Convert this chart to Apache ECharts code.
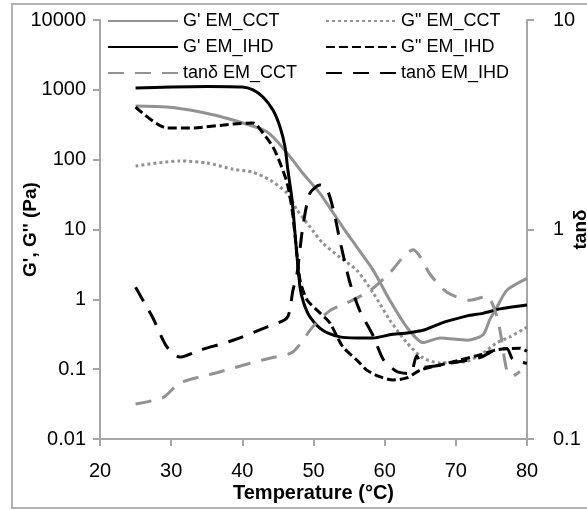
<!DOCTYPE html>
<html>
<head>
<meta charset="utf-8">
<script src="https://cdn.jsdelivr.net/npm/echarts@6/dist/echarts.min.js"></script>
<style>
  html, body { margin: 0; padding: 0; background: #fff; }
  #frame { position: absolute; left: 11px; top: 3px; width: 640px; height: 502px; border: 2px solid #b3b3b3; }
  #chart { position: absolute; left: 0; top: 0; width: 587px; height: 510px; }
</style>
</head>
<body>
<div id="frame"></div>
<div id="chart"></div>
<script>
// values (temperature in °C)
const gCctT = [25, 29.4, 34.1, 38.7, 43.5, 46.3, 48.5, 50.9, 54.4, 56.1, 58.4, 60.7, 63.1, 65.4, 67.8, 71.6, 73.8, 74.8, 75.8, 77.2, 80];
const gCctV = [587, 567, 481, 370, 249, 124, 64, 33, 9.8, 5.6, 2.6, 0.98, 0.40, 0.24, 0.28, 0.26, 0.31, 0.52, 0.78, 1.36, 2.0];

const g2CctT = [25, 31.2, 35, 38.7, 41.5, 43.9, 46.3, 47.7, 49.5, 51.3, 53.7, 56.1, 58.4, 60.7, 63.1, 65.4, 67.8, 71.6, 73.8, 75.8, 77.6, 80];
const g2CctV = [81, 96, 90, 73, 66, 51, 33, 19, 10.9, 6.4, 4.0, 2.6, 1.23, 0.51, 0.24, 0.145, 0.123, 0.13, 0.17, 0.24, 0.29, 0.40];

const gIhdT = [25, 30, 35, 40, 41.5, 42.9, 44.3, 45.3, 46.0, 46.4, 47.0, 47.4, 48.1, 48.6, 49.5, 51.3, 53.7, 56.1, 58.4, 60.7, 63.1, 65.4, 67.8, 69.2, 71.6, 73.8, 76.2, 80];
const gIhdV = [1060, 1100, 1120, 1100, 1000, 790, 515, 294, 152, 71, 26, 8.9, 1.5, 0.9, 0.56, 0.36, 0.29, 0.28, 0.28, 0.31, 0.33, 0.36, 0.45, 0.5, 0.58, 0.63, 0.73, 0.83];

const g2IhdT = [25, 29.4, 32.6, 38.7, 41.5, 42.9, 44.3, 45.3, 46.3, 47.0, 47.4, 48.1, 49.1, 50.9, 52.3, 54.1, 56.1, 57.5, 59.3, 61.2, 63.1, 65.0, 67.8, 70.6, 73.4, 75.8, 79.0, 80];
const g2IhdV = [567, 284, 284, 324, 335, 241, 152, 90, 46, 19, 8.3, 1.9, 0.98, 0.64, 0.46, 0.21, 0.135, 0.097, 0.078, 0.070, 0.075, 0.097, 0.115, 0.135, 0.16, 0.19, 0.20, 0.18];

const tanCctT = [25, 28.9, 31.2, 36.4, 41.1, 44.3, 47.1, 49.9, 52.3, 54.7, 57.9, 60.7, 62.9, 64.0, 65.0, 66.4, 68.8, 72.0, 74.4, 75.5, 76.2, 77.2, 78.0, 79.0];
const tanCctV = [0.147, 0.158, 0.185, 0.207, 0.23, 0.245, 0.26, 0.343, 0.41, 0.446, 0.51, 0.62, 0.76, 0.80, 0.74, 0.61, 0.50, 0.46, 0.48, 0.41, 0.33, 0.21, 0.20, 0.21];

const tanIhdT = [25, 27.4, 29.4, 31.2, 34.1, 38.7, 43.5, 46.3, 47.1, 47.7, 48.5, 49.5, 50.9, 51.9, 52.8, 53.7, 55.1, 56.5, 58.4, 59.8, 61.7, 63.6, 64.5, 65.4, 69.2, 73.4, 76.2, 77.2, 78.0, 80];
const tanIhdV = [0.53, 0.38, 0.275, 0.246, 0.266, 0.296, 0.343, 0.38, 0.51, 0.62, 1.03, 1.49, 1.63, 1.55, 1.24, 0.89, 0.56, 0.41, 0.31, 0.24, 0.21, 0.205, 0.25, 0.22, 0.23, 0.245, 0.27, 0.27, 0.24, 0.23];

const xTicks = [20, 30, 40, 50, 60, 70, 80];

const gray = '#929292';
const font = 'Liberation Sans';

const pairs = (t, v) => t.map((x, i) => [x, v[i]]);

const line = (name, t, v, color, type, yIdx) => ({
  name: name,
  type: 'line',
  yAxisIndex: yIdx,
  data: pairs(t, v),
  symbol: 'none',
  smooth: 0.25,
  lineStyle: { color: color, width: 3, type: type },
  itemStyle: { color: color }
});

const legendBase = {
  orient: 'vertical', top: 7,
  itemWidth: 70, itemHeight: 14, itemGap: 8,
  itemStyle: { opacity: 0 },
  textStyle: { fontFamily: font, fontSize: 18, color: '#000' }
};

const chart = echarts.init(document.getElementById('chart'));

chart.setOption({
  animation: false,
  backgroundColor: 'transparent',
  textStyle: { fontFamily: font, color: '#000' },
  grid: { left: 100, right: 60, top: 20, bottom: 71, outerBoundsMode: 'none', containLabel: false },
  legend: [
    Object.assign({ data: ["G' EM_CCT", "G' EM_IHD", 'tanδ EM_CCT'], left: 102 }, legendBase),
    Object.assign({ data: ['G" EM_CCT', 'G" EM_IHD', 'tanδ EM_IHD'], left: 320 }, legendBase)
  ],
  xAxis: {
    type: 'value', min: xTicks[0], max: xTicks[xTicks.length - 1], interval: 10,
    name: 'Temperature (°C)', nameLocation: 'middle', nameGap: 44, nameMoveOverlap: false,
    nameTextStyle: { fontFamily: font, fontSize: 20, fontWeight: 'bold', color: '#000' },
    axisLine: { lineStyle: { color: '#a6a6a6', width: 2 } },
    axisTick: { length: 7, lineStyle: { color: '#a6a6a6', width: 2 } },
    axisLabel: { fontSize: 20, color: '#000', margin: 22 },
    splitLine: { show: false }
  },
  yAxis: [
    {
      type: 'log', logBase: 10, min: 0.01, max: 10000,
      name: "G', G'' (Pa)", nameLocation: 'middle', nameGap: 60, nameMoveOverlap: false,
      nameTextStyle: { fontFamily: font, fontSize: 19, fontWeight: 'bold', color: '#000' },
      axisLine: { show: true, lineStyle: { color: '#a6a6a6', width: 2 } },
      axisTick: { show: true, length: 7, lineStyle: { color: '#a6a6a6', width: 2 } },
      axisLabel: { fontSize: 20, color: '#000', margin: 14, formatter: v => String(v) },
      splitLine: { show: false }
    },
    {
      type: 'log', logBase: 10, min: 0.1, max: 10, position: 'right',
      name: 'tanδ', nameLocation: 'middle', nameGap: 44, nameMoveOverlap: false,
      nameTextStyle: { fontFamily: font, fontSize: 19, fontWeight: 'bold', color: '#000' },
      axisLine: { show: true, lineStyle: { color: '#a6a6a6', width: 2 } },
      axisTick: { show: true, length: 7, lineStyle: { color: '#a6a6a6', width: 2 } },
      axisLabel: { fontSize: 20, color: '#000', margin: 26, formatter: v => String(v) },
      splitLine: { show: false }
    }
  ],
  series: [
    line("G' EM_CCT", gCctT, gCctV, gray, 'solid', 0),
    line('G" EM_CCT', g2CctT, g2CctV, gray, [3, 3], 0),
    line("G' EM_IHD", gIhdT, gIhdV, '#000', 'solid', 0),
    line('G" EM_IHD', g2IhdT, g2IhdV, '#000', [9, 4], 0),
    line('tanδ EM_CCT', tanCctT, tanCctV, gray, [16, 11], 1),
    line('tanδ EM_IHD', tanIhdT, tanIhdV, '#000', [16, 11], 1)
  ]
});
</script>
</body>
</html>
